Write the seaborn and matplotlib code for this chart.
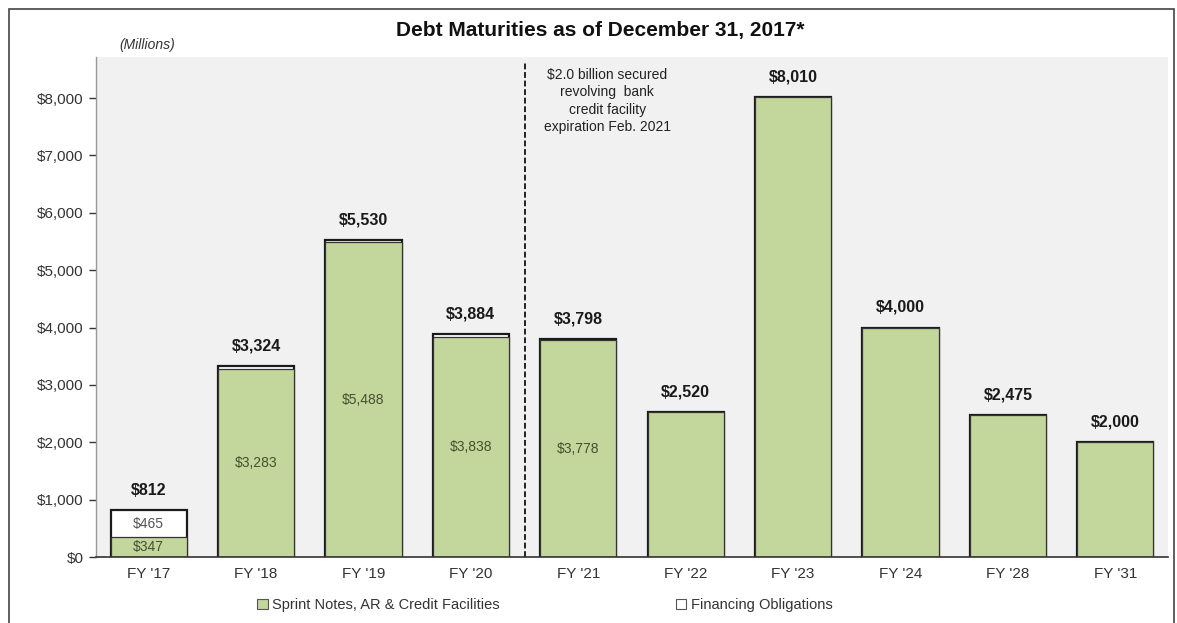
import pandas as pd
import matplotlib
matplotlib.use("Agg")
import matplotlib.pyplot as plt
import seaborn as sns
from matplotlib.patches import Patch, Rectangle

# data (millions)
years = ["FY '17", "FY '18", "FY '19", "FY '20", "FY '21",
         "FY '22", "FY '23", "FY '24", "FY '28", "FY '31"]
sprint = [347, 3283, 5488, 3838, 3778, 2520, 8010, 4000, 2475, 2000]
financing = [465, 41, 42, 46, 20, 0, 0, 0, 0, 0]
totals = [812, 3324, 5530, 3884, 3798, 2520, 8010, 4000, 2475, 2000]
inner_sprint = ["$347", "$3,283", "$5,488", "$3,838", "$3,778"]
yticks = [0, 1000, 2000, 3000, 4000, 5000, 6000, 7000, 8000]

df = pd.DataFrame({"Year": years, "Sprint": sprint, "Financing": financing, "Total": totals})

sns.set_style("white")
plt.rcParams['font.family'] = ['Liberation Sans', 'DejaVu Sans']

GREEN = '#c3d69b'
BG = '#f1f1f1'

fig = plt.figure(figsize=(11.77, 6.23), dpi=100)
ax = fig.add_axes([96/1177, 66/623, 1072/1177, 500/623])
ax.set_facecolor(BG)

# totals drawn first in white, green drawn on top -> stacked look
sns.barplot(data=df, x="Year", y="Total", color='white', saturation=1, width=0.71,
            edgecolor='#1a1a1a', linewidth=1.6, ax=ax)
sns.barplot(data=df, x="Year", y="Sprint", color=GREEN, saturation=1, width=0.71,
            edgecolor='#333333', linewidth=0.9, ax=ax)

ax.set_xlim(-0.49, 9.49)
ax.set_ylim(0, 8715)
ax.set_xlabel("")
ax.set_ylabel("")
ax.set_yticks(yticks)
ax.set_yticklabels([f"${v:,.0f}" for v in yticks], fontsize=11, color='#333333')
ax.tick_params(axis='x', labelsize=11, labelcolor='#333333', length=0, pad=7)
ax.tick_params(axis='y', left=True, length=5, width=1, color='#333333', direction='out', pad=4)

for s in ['top', 'right']:
    ax.spines[s].set_visible(False)
ax.spines['left'].set_color('#999999')
ax.spines['left'].set_linewidth(1)
ax.spines['bottom'].set_color('#333333')
ax.spines['bottom'].set_linewidth(1.2)

# total labels
for i, t in enumerate(totals):
    ax.text(i, t + 220, f"${t:,.0f}", ha='center', va='bottom', fontsize=11.5,
            fontweight='bold', color='#1a1a1a')

# inner labels
for i, lab in enumerate(inner_sprint):
    ax.text(i, sprint[i] / 2, lab, ha='center', va='center', fontsize=10, color='#46502f')
ax.text(0, sprint[0] + financing[0] / 2, "$465", ha='center', va='center',
        fontsize=10, color='#555555')

# dashed separator and annotation
ax.vlines(3.5, 0, 8640, colors='#222222', linestyles=(0, (3, 1.4)), linewidth=1.4)
ax.text(4.27, 8520, "$2.0 billion secured\nrevolving  bank\ncredit facility\nexpiration Feb. 2021",
        ha='center', va='top', fontsize=10, color='#222222', linespacing=1.3)

fig.text(0.51, 0.951, "Debt Maturities as of December 31, 2017*", ha='center', va='center',
         fontsize=15, fontweight='bold', color='#111111')
fig.text(0.101, 0.927, "(Millions)", ha='left', va='center', fontsize=10,
         style='italic', color='#333333')

handles = [Patch(facecolor=GREEN, edgecolor='#555555', linewidth=0.8),
           Patch(facecolor='white', edgecolor='#555555', linewidth=0.8)]
fig.legend(handles, ["Sprint Notes, AR & Credit Facilities", "Financing Obligations"],
           loc='center', bbox_to_anchor=(0.463, 0.029), ncol=2, frameon=False,
           fontsize=10.5, handlelength=0.7, handleheight=0.7, handletextpad=0.3,
           columnspacing=12.1, labelcolor='#333333')

# outer frame
fig.patches.append(Rectangle((9/1177, -0.02), 1165/1177, 1 - 9/623 + 0.02,
                             transform=fig.transFigure, fill=False,
                             edgecolor='#444444', linewidth=1.2))

fig.savefig("out.png", dpi=100)
